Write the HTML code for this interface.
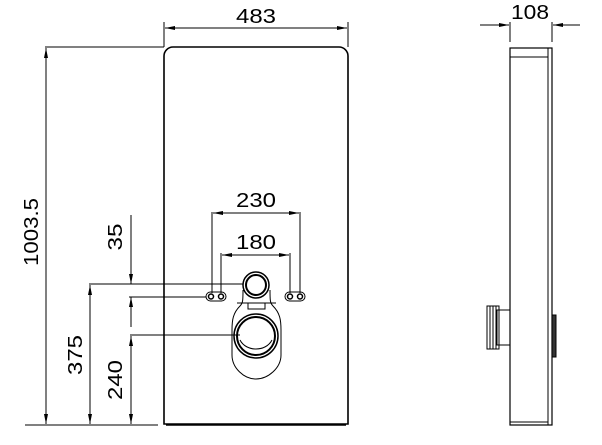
<!DOCTYPE html>
<html><head><style>body{margin:0;background:#fff}</style></head><body>
<svg width="602" height="440" viewBox="0 0 602 440" xmlns="http://www.w3.org/2000/svg" font-family="Liberation Sans, sans-serif" fill="none" stroke="#000">
<defs>
<marker id="a" viewBox="0 0 10 4" refX="10" refY="2" markerWidth="10" markerHeight="4" orient="auto-start-reverse" markerUnits="userSpaceOnUse"><path d="M0,0L10,2L0,4z" fill="#000" stroke="none"/></marker>
</defs>
<g stroke-width="1">
<path d="M173,47H339a9,9 0 0 1 9,9V424H164V56a9,9 0 0 1 9,-9z" stroke-width="1.6"/>
<line x1="166" y1="425" x2="346" y2="425" stroke-width="1.6"/>
<line x1="164" y1="22" x2="164" y2="47"/><line x1="348" y1="22" x2="348" y2="47"/>
<line x1="165" y1="28" x2="347" y2="28" marker-start="url(#a)" marker-end="url(#a)"/>
<line x1="45" y1="47" x2="164" y2="47"/>
<line x1="25" y1="425" x2="158" y2="425"/>
<line x1="46" y1="48" x2="46" y2="424" marker-start="url(#a)" marker-end="url(#a)"/>
<line x1="89" y1="284" x2="243" y2="284"/>
<line x1="90" y1="285" x2="90" y2="424" marker-start="url(#a)" marker-end="url(#a)"/>
<line x1="131" y1="215" x2="131" y2="284" marker-end="url(#a)"/>
<line x1="129" y1="297" x2="206" y2="297"/>
<line x1="131" y1="297" x2="131" y2="327" marker-start="url(#a)"/>
<line x1="130" y1="335" x2="240" y2="335"/>
<line x1="131" y1="336" x2="131" y2="424" marker-start="url(#a)" marker-end="url(#a)"/>
<line x1="212" y1="212" x2="212" y2="293"/><line x1="300" y1="212" x2="300" y2="293"/>
<line x1="213" y1="213" x2="299" y2="213" marker-start="url(#a)" marker-end="url(#a)"/>
<line x1="221" y1="253" x2="221" y2="293"/><line x1="290" y1="253" x2="290" y2="293"/>
<line x1="222" y1="255" x2="289" y2="255" marker-start="url(#a)" marker-end="url(#a)"/>
<rect x="206" y="292" width="20" height="9" rx="4.5"/>
<circle cx="211" cy="296.5" r="2.5" stroke-width="1.5"/><circle cx="221" cy="296.5" r="2.5" stroke-width="1.5"/>
<rect x="285" y="292" width="20" height="9" rx="4.5"/>
<circle cx="290" cy="296.5" r="2.5" stroke-width="1.5"/><circle cx="300" cy="296.5" r="2.5" stroke-width="1.5"/>
<path d="M243,290 C243,300 243,303 240,306 C233,313 232,320 232,330 V355 C232,368 244,379 256,379 C268,379 281,368 281,355 V330 C281,320 280,313 273,306 C270,303 270,300 270,290"/>
<line x1="237" y1="303" x2="276" y2="303"/>
<rect x="248" y="303" width="17" height="6"/>
<circle cx="256" cy="285" r="13" stroke-width="1.5"/><circle cx="256" cy="285" r="10" stroke-width="2"/>
<circle cx="256" cy="336" r="22" stroke-width="1.5"/><circle cx="256" cy="336" r="19" stroke-width="2"/>
<path d="M240,340 C246,352 266,352 272,340"/>
<rect x="510" y="48" width="42" height="377" stroke-width="1.2"/>
<line x1="548" y1="48" x2="548" y2="425"/>
<line x1="510" y1="57" x2="548" y2="57"/>
<line x1="510" y1="422" x2="548" y2="422"/>
<rect x="497" y="310" width="13" height="35"/>
<rect x="487" y="306" width="12" height="43"/>
<line x1="490" y1="306" x2="490" y2="349"/><line x1="493" y1="306" x2="493" y2="349"/><line x1="496" y1="306" x2="496" y2="349"/>
<rect x="552" y="315" width="4" height="42" fill="#333"/>
<line x1="510" y1="22" x2="510" y2="42"/><line x1="552" y1="22" x2="552" y2="42"/>
<line x1="480" y1="25" x2="509" y2="25" marker-end="url(#a)"/>
<line x1="580" y1="25" x2="553" y2="25" marker-end="url(#a)"/>
</g>
<g fill="#000" stroke="none" font-size="20" text-anchor="middle">
<text x="256" y="23" textLength="40" lengthAdjust="spacingAndGlyphs">483</text>
<text x="530" y="19" textLength="38" lengthAdjust="spacingAndGlyphs">108</text>
<text x="256" y="207" textLength="40" lengthAdjust="spacingAndGlyphs">230</text>
<text x="256" y="249" textLength="40" lengthAdjust="spacingAndGlyphs">180</text>
<text transform="translate(38,232) rotate(-90)" textLength="68" lengthAdjust="spacingAndGlyphs">1003.5</text>
<text transform="translate(82,355) rotate(-90)" textLength="40" lengthAdjust="spacingAndGlyphs">375</text>
<text transform="translate(122,237) rotate(-90)" textLength="27" lengthAdjust="spacingAndGlyphs">35</text>
<text transform="translate(122,380) rotate(-90)" textLength="40" lengthAdjust="spacingAndGlyphs">240</text>
</g>
</svg>
</body></html>
